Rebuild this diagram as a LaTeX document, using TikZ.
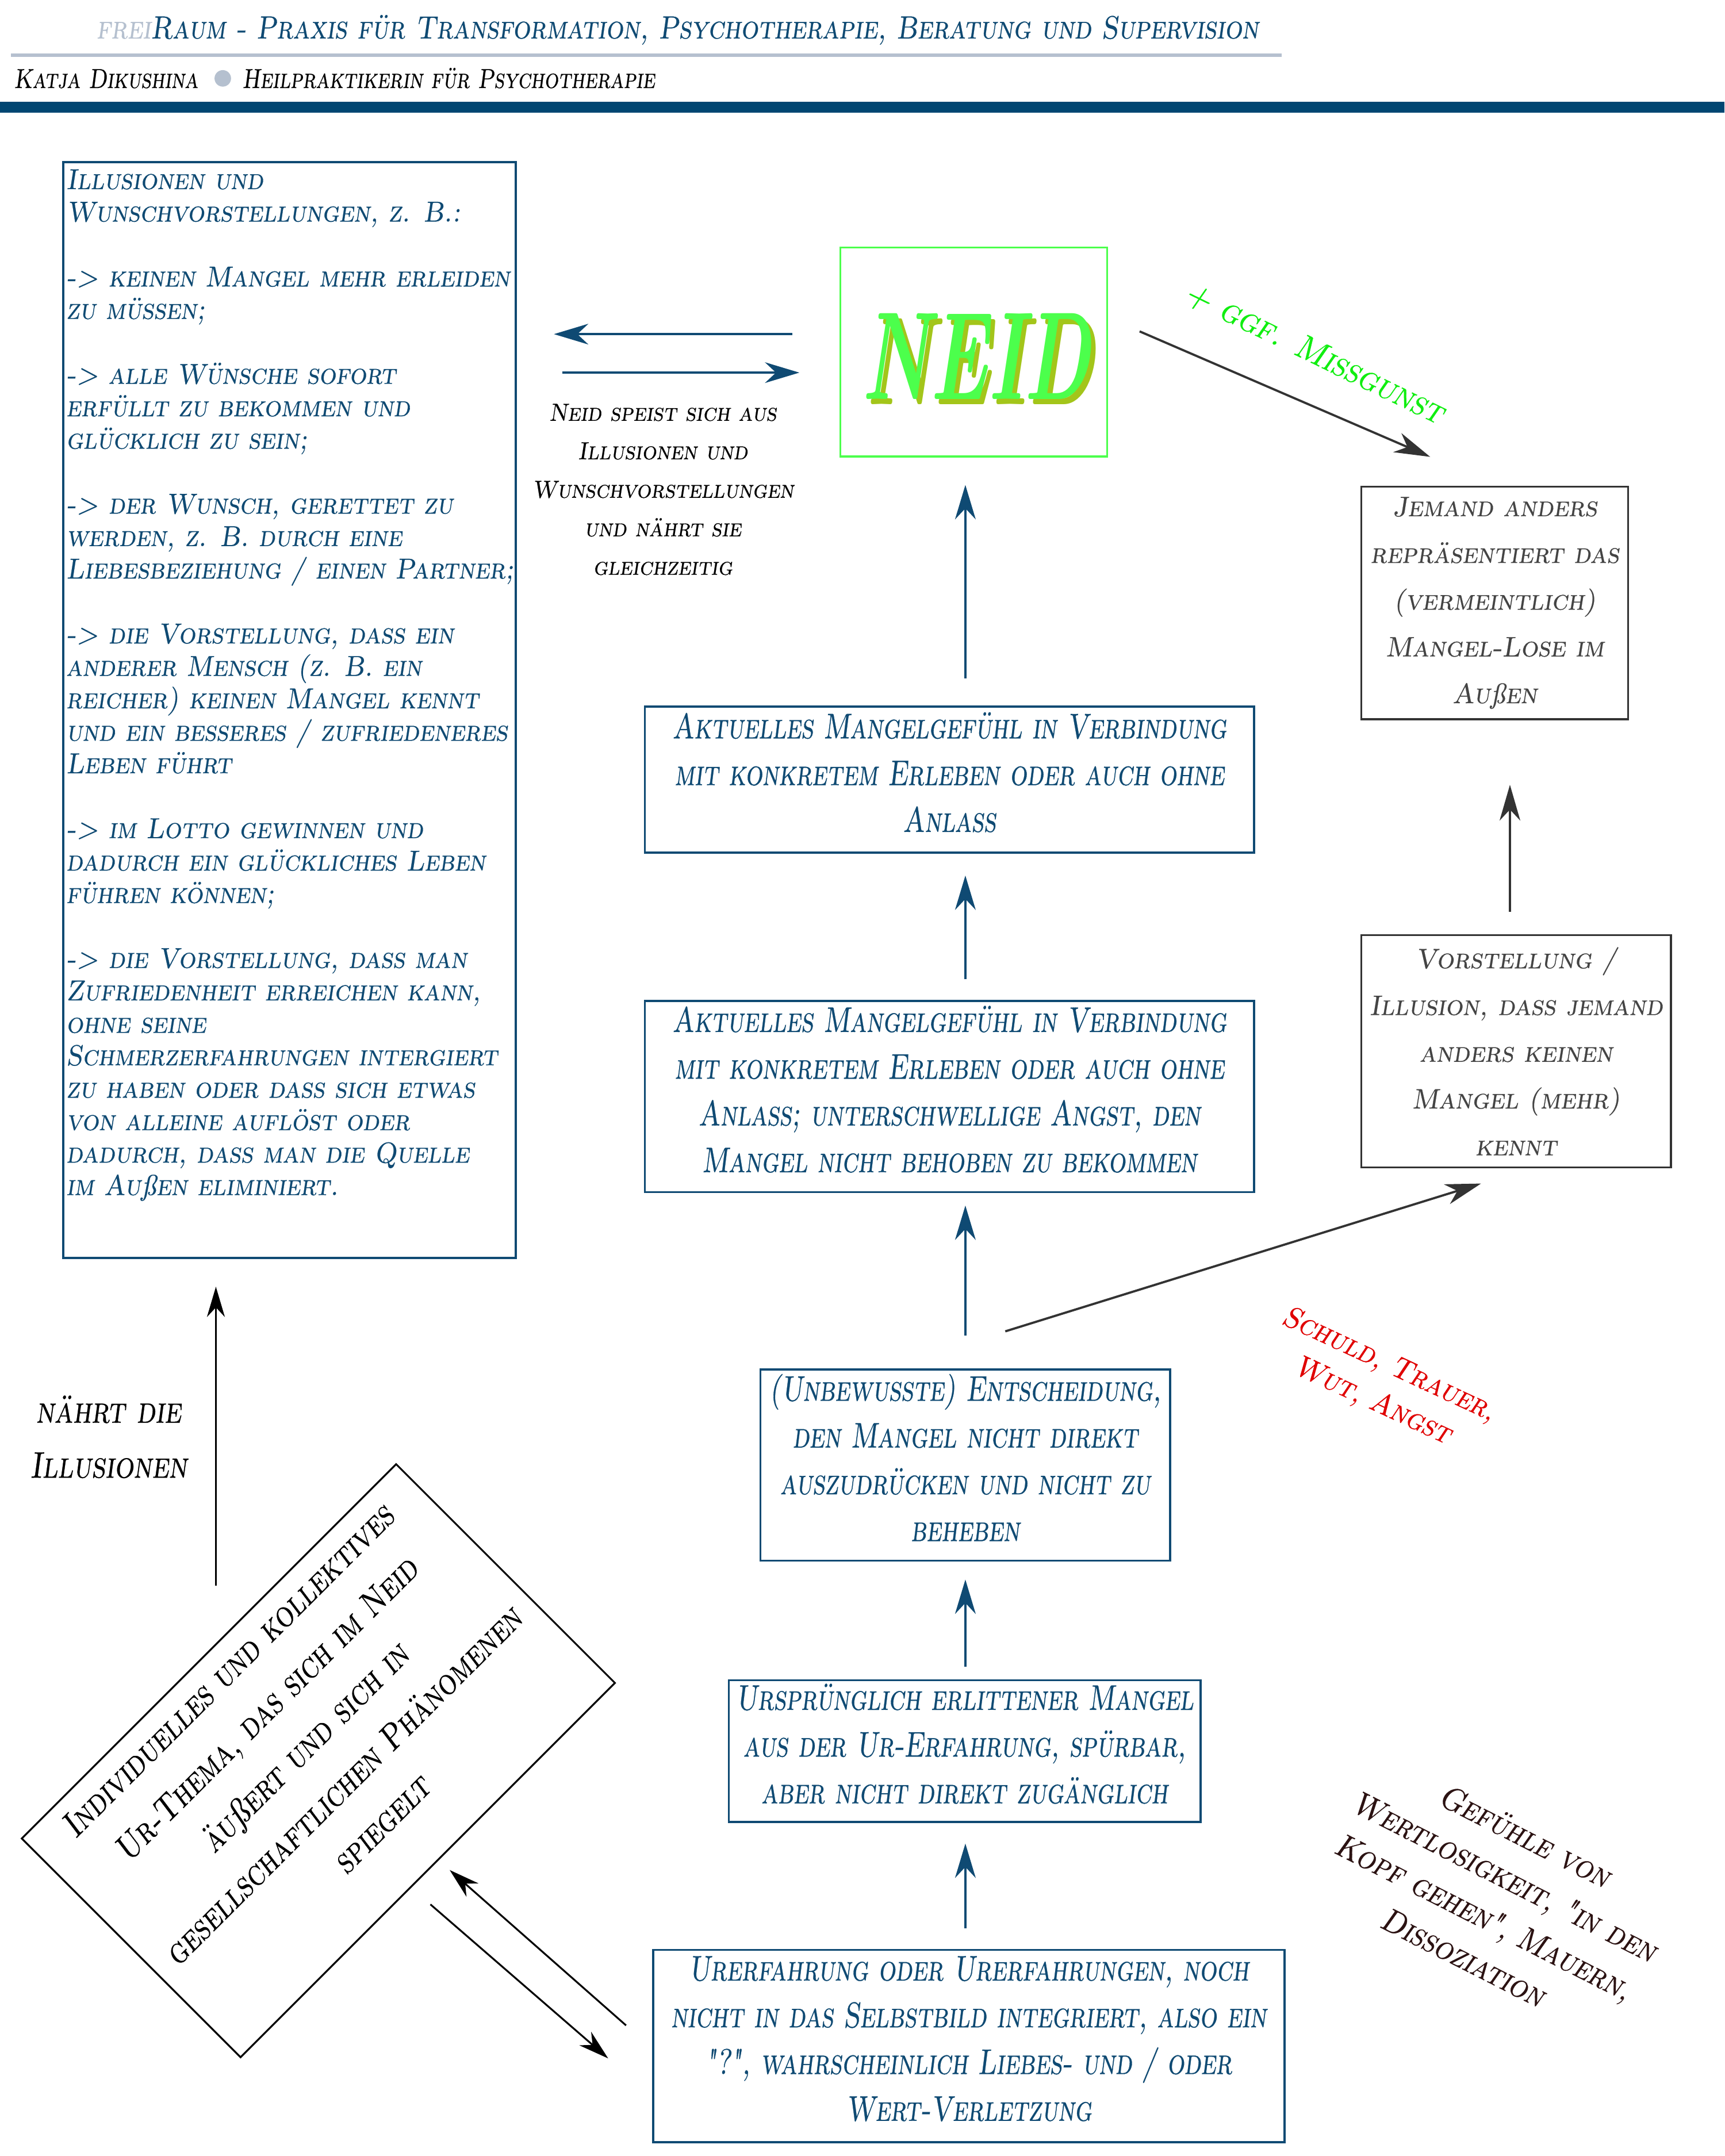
\documentclass[tikz,border=0pt]{standalone}
\usepackage{fontspec}
\usetikzlibrary{arrows.meta}
\newfontfamily\fHead{lmromancaps10-oblique.otf}[FakeStretch=0.845,FakeBold=0.5]
\newfontfamily\fSub{lmromancaps10-oblique.otf}[FakeStretch=0.80,FakeBold=0.5]
\newfontfamily\fLeft{lmromancaps10-oblique.otf}[FakeStretch=0.915,FakeBold=0.5]
\newfontfamily\fMid{lmromancaps10-oblique.otf}[FakeStretch=0.75,FakeBold=0.5]
\newfontfamily\fRight{lmromancaps10-oblique.otf}[FakeStretch=0.96,FakeBold=0.5]
\newfontfamily\fSmall{lmromancaps10-oblique.otf}[FakeStretch=0.92,FakeBold=0.5]
\newfontfamily\fWide{lmromancaps10-oblique.otf}[FakeStretch=0.92,FakeBold=0.5]
\newfontfamily\fTilt{lmromancaps10-oblique.otf}[FakeStretch=0.83,FakeBold=0.5]
\newfontfamily\fNaehrt{lmromancaps10-oblique.otf}[FakeStretch=0.81,FakeBold=0.5]
\newfontfamily\fBrown{lmromancaps10-oblique.otf}[FakeStretch=0.88,FakeBold=0.5]
\newfontfamily\fItal{lmroman10-italic.otf}[FakeBold=0.5]
\newfontfamily\fNeid{lmroman10-bolditalic.otf}[FakeStretch=0.61]
\newcommand\myss{{\fItal ß}}
\definecolor{myblue}{HTML}{0F4A73}
\definecolor{barblue}{HTML}{004672}
\definecolor{lightline}{HTML}{B5C0CF}
\definecolor{neidgreen}{HTML}{4CFF4C}
\definecolor{neidolive}{HTML}{A3C51A}
\definecolor{missgreen}{HTML}{10EE10}
\definecolor{myred}{HTML}{E00000}
\definecolor{mygray}{HTML}{333333}
\definecolor{mytextgray}{HTML}{444444}
\definecolor{mybrown}{HTML}{2B1212}
\tikzset{
  bluebox/.style={draw=myblue, line width=1.5pt, text=myblue, inner sep=0pt, align=center,
    text depth=11pt, font=\fMid\fontsize{26}{34}\selectfont},
  graybox/.style={draw=mygray, line width=1.5pt, text=mytextgray, inner sep=0pt, align=center,
    font=\fRight\fontsize{20.5}{34}\selectfont},
  bluearrow/.style={draw=myblue, line width=1.6pt, -{Stealth[length=25pt,width=15pt,inset=8pt]}},
  grayarrow/.style={draw=mygray, line width=1.6pt, -{Stealth[length=26pt,width=15pt,inset=8pt]}},
  blackarrow/.style={draw=black, line width=1.3pt, -{Stealth[length=22pt,width=13pt,inset=7pt]}},
}
\begin{document}
\begin{tikzpicture}[x=1pt,y=-1pt]
\useasboundingbox (0,0) rectangle (1254,1568);
\fill[white] (0,0) rectangle (1254,1568);

% header
\draw[lightline, line width=2.5pt] (8,40) -- (932,40);
\fill[barblue] (0,74) rectangle (1254,82);
\node[anchor=base west, inner sep=0pt, text=myblue, font=\fHead\fontsize{23.4}{28}\selectfont] (title) at (70,28)
  {\textcolor{lightline}{frei}Raum - Praxis für Transformation, Psychotherapie, Beratung und Supervision};
\node[anchor=base west, inner sep=0pt, text=black, font=\fSub\fontsize{20}{24}\selectfont] (name) at (10,64) {Katja Dikushina};
\node[circle, fill=lightline, minimum size=12pt, inner sep=0pt] (dot) at (162,57) {};
\node[anchor=base west, inner sep=0pt, text=black, font=\fSub\fontsize{20}{24}\selectfont] (job) at (176,64) {Heilpraktikerin für Psychotherapie};

% left box
\node[draw=myblue, line width=1.6pt, minimum width=329pt, minimum height=797pt, inner sep=0pt] (ill) at (210.5,516.5) {};
\node[anchor=north west, inner sep=0pt, text=myblue, font=\fLeft\fontsize{21}{23.6}\selectfont] (illtext) at (48,123) {\parbox[t]{326pt}{\raggedright
Illusionen und\\
Wunschvorstellungen, z. B.:\\[23.6pt]
-> keinen Mangel mehr erleiden\\
zu müssen;\\[23.6pt]
-> alle Wünsche sofort\\
erfüllt zu bekommen und\\
glücklich zu sein;\\[23.6pt]
-> der Wunsch, gerettet zu\\
werden, z. B. durch eine\\
Liebesbeziehung / einen Partner;\\[23.6pt]
-> die Vorstellung, dass ein\\
anderer Mensch (z. B. ein\\
reicher) keinen Mangel kennt\\
und ein besseres / zufriedeneres\\
Leben führt\\[23.6pt]
-> im Lotto gewinnen und\\
dadurch ein glückliches Leben\\
führen können;\\[23.6pt]
-> die Vorstellung, dass man\\
Zufriedenheit erreichen kann,\\
ohne seine\\
Schmerzerfahrungen intergiert\\
zu haben oder dass sich etwas\\
von alleine auflöst oder\\
dadurch, dass man die Quelle\\
im Au\myss en eliminiert.}};

% NEID
\node[draw=neidgreen, line width=1.4pt, minimum width=194pt, minimum height=152pt, inner sep=0pt] (neid) at (708,256) {};
\node[inner sep=0pt, text=neidolive, font=\fNeid\fontsize{91}{91}\selectfont] (neidshadow) at (713,263) {NEID};
\node[inner sep=0pt, text=neidgreen, font=\fNeid\fontsize{91}{91}\selectfont] (neidword) at (710,259) {NEID};

\node[inner sep=0pt, align=center, text=black, font=\fSmall\fontsize{18}{28}\selectfont] (speist) at (482,356)
  {Neid speist sich aus\\Illusionen und\\Wunschvorstellungen\\und nährt sie\\gleichzeitig};

\node[inner sep=0pt, rotate=-26, text=missgreen, font=\fWide\fontsize{25}{30}\selectfont] (missgunst) at (956,257) {+ ggf. Missgunst};

% right boxes
\node[graybox, minimum width=194pt, minimum height=169pt] (jemand) at (1087,438.5)
  {Jemand anders\\repräsentiert das\\(vermeintlich)\\Mangel-Lose im\\Au\myss en};
\node[graybox, minimum width=225pt, minimum height=169pt] (vorst) at (1102.5,764.5)
  {Vorstellung /\\Illusion, dass jemand\\anders keinen\\Mangel (mehr)\\kennt};

% central boxes
\node[bluebox, minimum width=443pt, minimum height=106pt] (boxA) at (690.5,567)
  {Aktuelles Mangelgefühl in Verbindung\\mit konkretem Erleben oder auch ohne\\Anlass};
\node[bluebox, minimum width=443pt, minimum height=139pt] (boxB) at (690.5,797.5)
  {Aktuelles Mangelgefühl in Verbindung\\mit konkretem Erleben oder auch ohne\\Anlass; unterschwellige Angst, den\\Mangel nicht behoben zu bekommen};
\node[bluebox, minimum width=298pt, minimum height=139pt] (boxC) at (702,1065.5)
  {(Unbewusste) Entscheidung,\\den Mangel nicht direkt\\auszudrücken und nicht zu\\beheben};
\node[bluebox, minimum width=343pt, minimum height=103pt] (boxD) at (701.5,1273.5)
  {Ursprünglich erlittener Mangel\\aus der Ur-Erfahrung, spürbar,\\aber nicht direkt zugänglich};
\node[bluebox, minimum width=459pt, minimum height=140pt] (boxE) at (704.5,1488)
  {Urerfahrung oder Urerfahrungen, noch\\nicht in das Selbstbild integriert, also ein\\"?", wahrscheinlich Liebes- und / oder\\Wert-Verletzung};

% red text
\node[inner sep=0pt, rotate=-25, align=center, text=myred, font=\fWide\fontsize{22}{29}\selectfont] (schuld) at (1004,1006)
  {Schuld, Trauer,\\Wut, Angst};

% brown text
\node[inner sep=0pt, rotate=-27, align=center, text=mybrown, font=\fBrown\fontsize{24}{33}\selectfont] (gefuehle) at (1087,1379)
  {Gefühle von\\Wertlosigkeit, "in den\\Kopf gehen", Mauern,\\Dissoziation};

% tilted box
\node[draw=black, line width=1.3pt, minimum width=385pt, minimum height=225pt, inner sep=0pt, rotate=45] (tb) at (231.5,1280.5) {};
\node[inner sep=0pt, rotate=45, align=center, text=black, font=\fTilt\fontsize{26}{39.5}\selectfont] (tbtext) at (221.5,1270.5)
  {Individuelles und kollektives\\Ur-Thema, das sich im Neid\\äu\myss ert und sich in\\gesellschaftlichen Phänomenen\\spiegelt};

\node[inner sep=0pt, align=center, text=black, font=\fNaehrt\fontsize{27}{40}\selectfont] (naehrt) at (79,1045)
  {nährt die\\Illusionen};

% connectors
\draw[bluearrow] ([xshift=-34pt,yshift=13pt]neid.west) -- ([xshift=27pt,yshift=273.5pt]ill.east);
\draw[bluearrow] ([xshift=33pt,yshift=245.5pt]ill.east) -- ([xshift=-29pt,yshift=-15pt]neid.west);
\draw[grayarrow] ([xshift=23pt,yshift=15pt]neid.east) -- ([xshift=-47pt,yshift=21pt]jemand.north);
\draw[grayarrow] ([xshift=-4.5pt,yshift=16pt]vorst.north) -- ([xshift=11pt,yshift=-47pt]jemand.south);
\draw[grayarrow] ([xshift=29pt,yshift=27pt]boxC.north) -- ([xshift=-25.5pt,yshift=-11pt]vorst.south);
\draw[bluearrow] ([xshift=11.5pt,yshift=20pt]boxA.north) -- ([xshift=-6pt,yshift=-20pt]neid.south);
\draw[bluearrow] ([xshift=11.5pt,yshift=15pt]boxB.north) -- ([xshift=11.5pt,yshift=-16pt]boxA.south);
\draw[bluearrow] ([yshift=24pt]boxC.north) -- ([xshift=11.5pt,yshift=-9pt]boxB.south);
\draw[bluearrow] ([xshift=0.5pt,yshift=9pt]boxD.north) -- ([yshift=-13pt]boxC.south);
\draw[bluearrow] ([xshift=-2.5pt,yshift=15pt]boxE.north) -- ([xshift=0.5pt,yshift=-15pt]boxD.south);
\draw[blackarrow] ([xshift=-19pt,yshift=15pt]boxE.west) -- ([xshift=95.5pt,yshift=-79.5pt]tb.center);
\draw[blackarrow] ([xshift=81.5pt,yshift=-104.5pt]tb.center) -- ([xshift=-32pt,yshift=-9pt]boxE.west);
\draw[blackarrow] ([xshift=-74.5pt,yshift=127.5pt]tb.center) -- ([xshift=-53.5pt,yshift=-20pt]ill.south);
\end{tikzpicture}
\end{document}
